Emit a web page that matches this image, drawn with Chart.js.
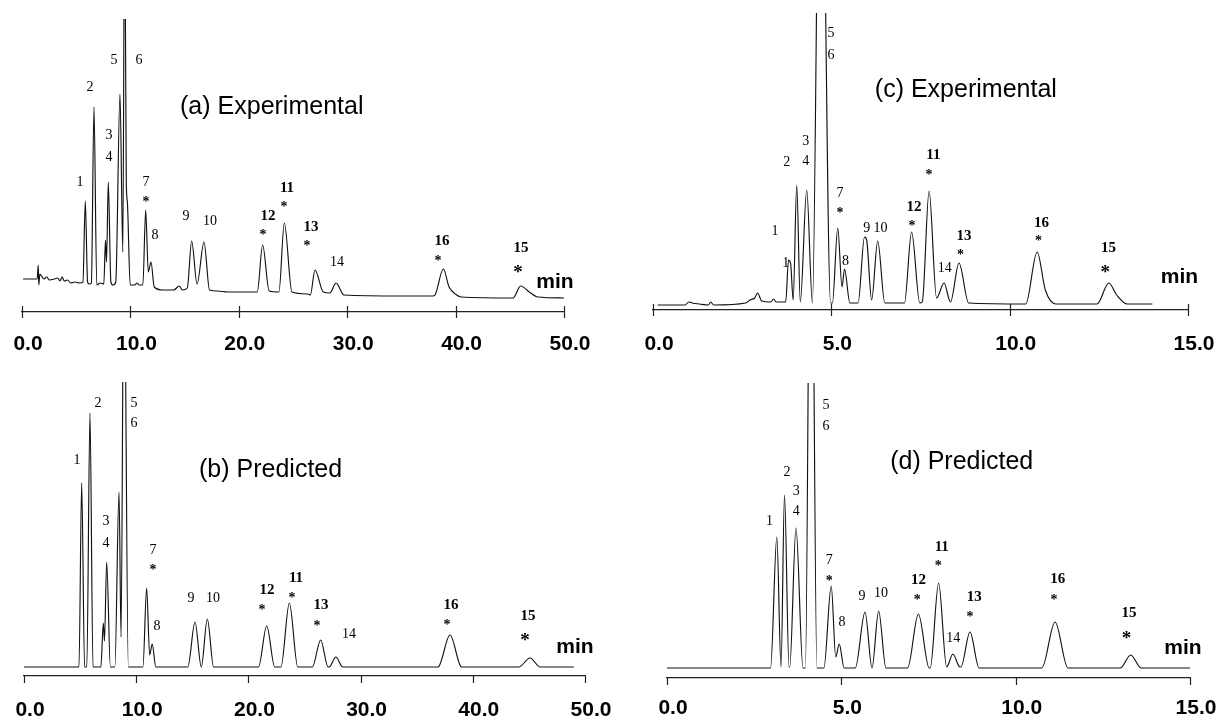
<!DOCTYPE html>
<html>
<head>
    <title>Chromatograms: experimental vs predicted</title>
    <script src="https://cdn.jsdelivr.net/npm/chart.js"></script>
    <style>
        body { margin: 0; background: #fff; }
        canvas { position: absolute; }
    </style>
</head>
<body>
    <canvas id="chartA" width="610" height="361" style="left:0;top:0"></canvas>
    <canvas id="chartB" width="620" height="361" style="left:0;top:361px"></canvas>
    <canvas id="chartC" width="601" height="361" style="left:620px;top:0"></canvas>
    <canvas id="chartD" width="601" height="361" style="left:620px;top:361px"></canvas>

    <script>
        // traces: [time (min), detector response]
        const traceA = [
            [0.1, 33], [1.4, 33], [1.5, 47], [1.55, 27], [1.65, 38], [1.8, 36], [2.0, 33], [2.3, 35],
            [2.5, 32], [3.0, 33], [3.3, 34], [3.5, 31], [3.7, 35], [3.9, 31], [4.2, 32], [4.5, 29],
            [4.9, 30], [5.3, 29], [5.62, 30], [5.84, 111], [6.05, 30], [6.2, 28], [6.4, 29], [6.64, 205],
            [6.9, 27], [7.2, 29], [7.55, 28], [7.7, 72], [7.8, 50], [7.96, 130], [8.2, 30], [8.4, 27],
            [8.65, 30], [9.04, 218], [9.3, 60], [9.47, 420], [9.62, 130], [9.72, 110], [9.98, 27],
            [10.4, 27], [10.6, 29], [10.8, 27], [11.15, 27], [11.41, 102], [11.65, 40], [11.9, 50],
            [12.2, 25], [13.0, 22], [14.0, 22], [14.5, 26], [14.8, 22], [15.25, 24], [15.65, 71],
            [16.15, 28], [16.79, 70], [17.3, 22], [18.0, 21], [19.0, 20], [21.7, 20], [22.2, 67],
            [22.8, 21], [23.7, 20], [24.2, 89], [24.9, 20], [26.4, 18], [26.6, 17], [27.03, 42],
            [27.8, 20], [28.4, 19], [28.97, 29], [29.7, 17], [35.0, 16], [37.9, 16], [38.1, 17],
            [38.87, 43], [39.4, 25], [40.1, 17], [40.5, 15], [45.3, 14], [46.0, 26], [46.8, 20],
            [47.6, 15], [50.0, 14]
        ];
        const traceB = [
            [0.0, 9], [4.9, 9], [5.14, 193], [5.4, 9], [5.6, 9], [5.88, 263], [6.15, 9], [6.85, 9],
            [7.07, 53], [7.17, 35], [7.37, 114], [7.7, 9], [8.1, 9], [8.47, 184], [8.65, 39],
            [8.91, 450], [9.3, 9], [10.6, 9], [10.93, 88], [11.2, 21], [11.43, 32], [11.75, 9],
            [14.6, 9], [15.24, 54], [15.8, 9], [16.34, 57], [16.9, 9], [20.9, 9], [21.63, 50],
            [22.35, 9], [22.9, 9], [23.65, 73], [24.4, 9], [25.7, 9], [26.44, 36], [27.1, 9],
            [27.2, 9], [27.8, 19], [28.4, 9], [36.9, 9], [37.97, 41], [39.0, 9], [44.1, 9],
            [45.1, 18], [46.0, 9], [49.0, 9]
        ];
        const traceC = [
            [0.13, 5], [0.9, 5], [1.0, 8], [1.1, 7], [1.3, 6], [1.55, 5], [1.62, 8], [1.7, 5],
            [2.6, 7], [2.72, 10], [2.85, 12], [2.93, 17], [3.05, 9], [3.3, 8], [3.38, 11], [3.45, 8],
            [3.72, 8], [3.8, 50], [3.86, 46], [3.93, 10], [4.03, 125], [4.13, 8], [4.31, 120],
            [4.47, 7], [4.7, 600], [4.98, 7], [5.03, 7], [5.18, 82], [5.3, 23], [5.37, 41], [5.52, 7],
            [5.75, 7], [5.93, 73], [5.99, 70], [6.13, 10], [6.3, 69], [6.5, 7], [7.05, 7], [7.25, 78],
            [7.48, 7], [7.55, 8], [7.74, 119], [7.95, 12], [8.16, 27], [8.34, 8], [8.58, 47],
            [8.85, 7], [10.45, 6], [10.77, 58], [11.0, 20], [11.3, 6], [12.45, 6], [12.78, 27],
            [13.0, 15], [13.3, 6], [14.0, 6]
        ];
        const traceD = [
            [0.0, 10], [2.97, 10], [3.15, 141], [3.27, 11], [3.37, 183], [3.5, 11], [3.52, 11],
            [3.7, 150], [3.9, 10], [3.97, 10], [4.13, 600], [4.3, 10], [4.5, 10], [4.71, 92],
            [4.84, 21], [4.94, 34], [5.08, 10], [5.4, 10], [5.68, 66], [5.88, 10], [6.07, 67],
            [6.28, 10], [6.9, 10], [7.21, 64], [7.52, 10], [7.55, 10], [7.79, 95], [8.02, 11],
            [8.2, 24], [8.4, 11], [8.43, 11], [8.69, 46], [8.95, 10], [10.75, 10], [11.13, 56],
            [11.5, 10], [13.0, 10], [13.3, 23], [13.6, 10], [15.0, 10]
        ];

        // peak tags: [label, time, height, star time, star height]
        const tagsA = [
            ['1', 5.35, 130], ['2', 6.27, 225], ['3', 8.03, 177], ['4', 8.03, 155],
            ['5', 8.49, 252], ['6', 10.79, 252], ['7', 11.44, 130, 11.44, 113], ['8', 12.27, 77],
            ['9', 15.13, 96], ['10', 17.34, 91], ['12', 22.69, 96, 22.23, 80],
            ['11', 24.45, 124, 24.17, 108], ['13', 26.66, 85, 26.29, 69], ['14', 29.06, 50],
            ['16', 38.75, 71, 38.38, 54], ['15', 46.03, 64, 45.76, 44]
        ];
        const tagsB = [
            ['1', 4.72, 216], ['2', 6.6, 273], ['5', 9.8, 273], ['6', 9.8, 253],
            ['3', 7.31, 155], ['4', 7.31, 133], ['7', 11.5, 126, 11.5, 109], ['8', 11.85, 50],
            ['9', 14.88, 78], ['10', 16.84, 78], ['12', 21.66, 86, 21.21, 69],
            ['11', 24.24, 98, 23.89, 81], ['13', 26.47, 71, 26.11, 53], ['14', 28.97, 42],
            ['16', 38.06, 71, 37.7, 54], ['15', 44.92, 60, 44.65, 40]
        ];
        const tagsC = [
            ['5', 4.99, 277], ['6', 4.99, 255], ['3', 4.28, 169], ['4', 4.28, 149],
            ['2', 3.75, 148], ['1', 3.42, 79], ['1', 3.72, 47], ['7', 5.24, 117, 5.24, 100],
            ['8', 5.4, 49], ['9', 5.99, 82], ['10', 6.38, 82], ['12', 7.32, 103, 7.26, 87],
            ['11', 7.86, 155, 7.74, 138], ['14', 8.18, 42], ['13', 8.72, 74, 8.62, 58],
            ['16', 10.89, 87, 10.81, 72], ['15', 12.77, 62, 12.68, 42]
        ];
        const tagsD = [
            ['1', 2.94, 157], ['2', 3.44, 206], ['3', 3.71, 187], ['4', 3.71, 167],
            ['5', 4.56, 273], ['6', 4.56, 252], ['7', 4.65, 118, 4.65, 100], ['8', 5.02, 56],
            ['9', 5.59, 82], ['10', 6.14, 85], ['12', 7.21, 98, 7.18, 81],
            ['11', 7.88, 131, 7.78, 115], ['14', 8.21, 40], ['13', 8.81, 81, 8.69, 64],
            ['16', 11.21, 99, 11.1, 81], ['15', 13.25, 65, 13.18, 44]
        ];
        const boldPeaks = ['11', '12', '13', '15', '16'];

        const titles = ['(a) Experimental', '(b) Predicted', '(c) Experimental', '(d) Predicted'];
        // where the title and the "min" unit sit, in data units: [time, height]
        const titlePos = [[14.58, 205], [15.6, 206], [6.22, 220], [6.4, 216]];
        const minPos = [[49.17, 30], [49.11, 29], [14.76, 33], [14.8, 30]];

        // peak numbers, stars, title and unit text
        const labelPlugin = {
            id: 'peakLabels',
            afterDatasetsDraw(chart, args, opts) {
                const ctx = chart.ctx;
                const xs = chart.scales.x, ys = chart.scales.y;
                ctx.save();
                ctx.fillStyle = '#000';
                opts.tags.forEach(tag => {
                    const bold = boldPeaks.includes(tag[0]);
                    ctx.font = (bold ? 'bold 15px' : '14px') + ' "Liberation Serif", serif';
                    ctx.textAlign = 'center';
                    ctx.textBaseline = 'middle';
                    ctx.fillText(tag[0], xs.getPixelForValue(tag[1]), ys.getPixelForValue(tag[2]));
                    if (tag.length > 3) {
                        const big = tag[0] === '15';
                        const size = big ? 19 : 14;
                        ctx.font = 'bold ' + size + 'px "Liberation Serif", serif';
                        ctx.fillText('*', xs.getPixelForValue(tag[3]),
                            ys.getPixelForValue(tag[4]) + size * 0.25);
                    }
                });
                ctx.font = '25px "Liberation Sans", Arial, sans-serif';
                ctx.textAlign = 'left';
                ctx.textBaseline = 'middle';
                ctx.fillText(opts.title, xs.getPixelForValue(opts.titleAt[0]), ys.getPixelForValue(opts.titleAt[1]));
                ctx.font = 'bold 21px "Liberation Sans", Arial, sans-serif';
                ctx.textAlign = 'center';
                ctx.fillText('min', xs.getPixelForValue(opts.minAt[0]), ys.getPixelForValue(opts.minAt[1]));
                ctx.restore();
            },
            afterDraw(chart, args, opts) {
                // tick marks on the time axis
                const ctx = chart.ctx;
                const xs = chart.scales.x;
                const axisY = chart.chartArea.bottom;
                ctx.save();
                ctx.strokeStyle = '#222';
                ctx.lineWidth = 1.2;
                xs.ticks.forEach(t => {
                    const px = Math.round(xs.getPixelForValue(t.value)) + 0.5;
                    ctx.beginPath();
                    ctx.moveTo(px, axisY - opts.tickUp);
                    ctx.lineTo(px, axisY + opts.tickDown);
                    ctx.stroke();
                });
                ctx.restore();
            }
        };

        function makeChart(id, trace, tags, idx, cfg) {
            const ctx = document.getElementById(id).getContext('2d');
            return new Chart(ctx, {
                type: 'line',
                data: {
                    datasets: [{
                        data: trace.map(p => ({ x: p[0], y: p[1] })),
                        borderColor: '#111',
                        borderWidth: 1.15,
                        pointRadius: 0,
                        fill: false,
                        cubicInterpolationMode: 'monotone'
                    }]
                },
                options: {
                    responsive: false,
                    animation: false,
                    layout: { padding: { left: cfg.left, right: cfg.right, top: cfg.top, bottom: 0 } },
                    plugins: {
                        legend: { display: false },
                        tooltip: { enabled: false },
                        peakLabels: {
                            tags: tags,
                            title: titles[idx],
                            titleAt: titlePos[idx],
                            minAt: minPos[idx],
                            tickUp: cfg.tickUp,
                            tickDown: cfg.tickDown
                        }
                    },
                    scales: {
                        x: {
                            type: 'linear',
                            min: 0,
                            max: cfg.max,
                            afterFit: s => { s.height = cfg.axisH; },
                            // tick lines are drawn by the plugin; tickLength only spaces the labels
                            grid: { display: false, drawTicks: true, tickLength: cfg.gap },
                            border: { display: true, color: '#222', width: 1.2 },
                            ticks: {
                                stepSize: cfg.step,
                                autoSkip: false,
                                maxRotation: 0,
                                padding: 2,
                                labelOffset: 6,
                                color: '#000',
                                font: { family: '"Liberation Sans", Arial, sans-serif', size: 21, weight: 'bold' },
                                callback: v => v.toFixed(1)
                            }
                        },
                        y: { display: false, min: 0, max: cfg.ymax }
                    }
                },
                plugins: [labelPlugin]
            });
        }

        makeChart('chartA', traceA, tagsA, 0,
            { left: 22, right: 46, top: 19, axisH: 49, gap: 18, max: 50, step: 10, ymax: 293, tickUp: 6, tickDown: 6 });
        makeChart('chartB', traceB, tagsB, 1,
            { left: 24, right: 35, top: 21, axisH: 46, gap: 20, max: 50, step: 10, ymax: 294, tickUp: 0, tickDown: 7 });
        makeChart('chartC', traceC, tagsC, 2,
            { left: 33, right: 33, top: 13, axisH: 51, gap: 20, max: 15, step: 5, ymax: 297, tickUp: 6, tickDown: 6 });
        makeChart('chartD', traceD, tagsD, 3,
            { left: 47, right: 31, top: 22, axisH: 44, gap: 16, max: 15, step: 5, ymax: 295, tickUp: 0, tickDown: 7 });
    </script>
</body>
</html>
